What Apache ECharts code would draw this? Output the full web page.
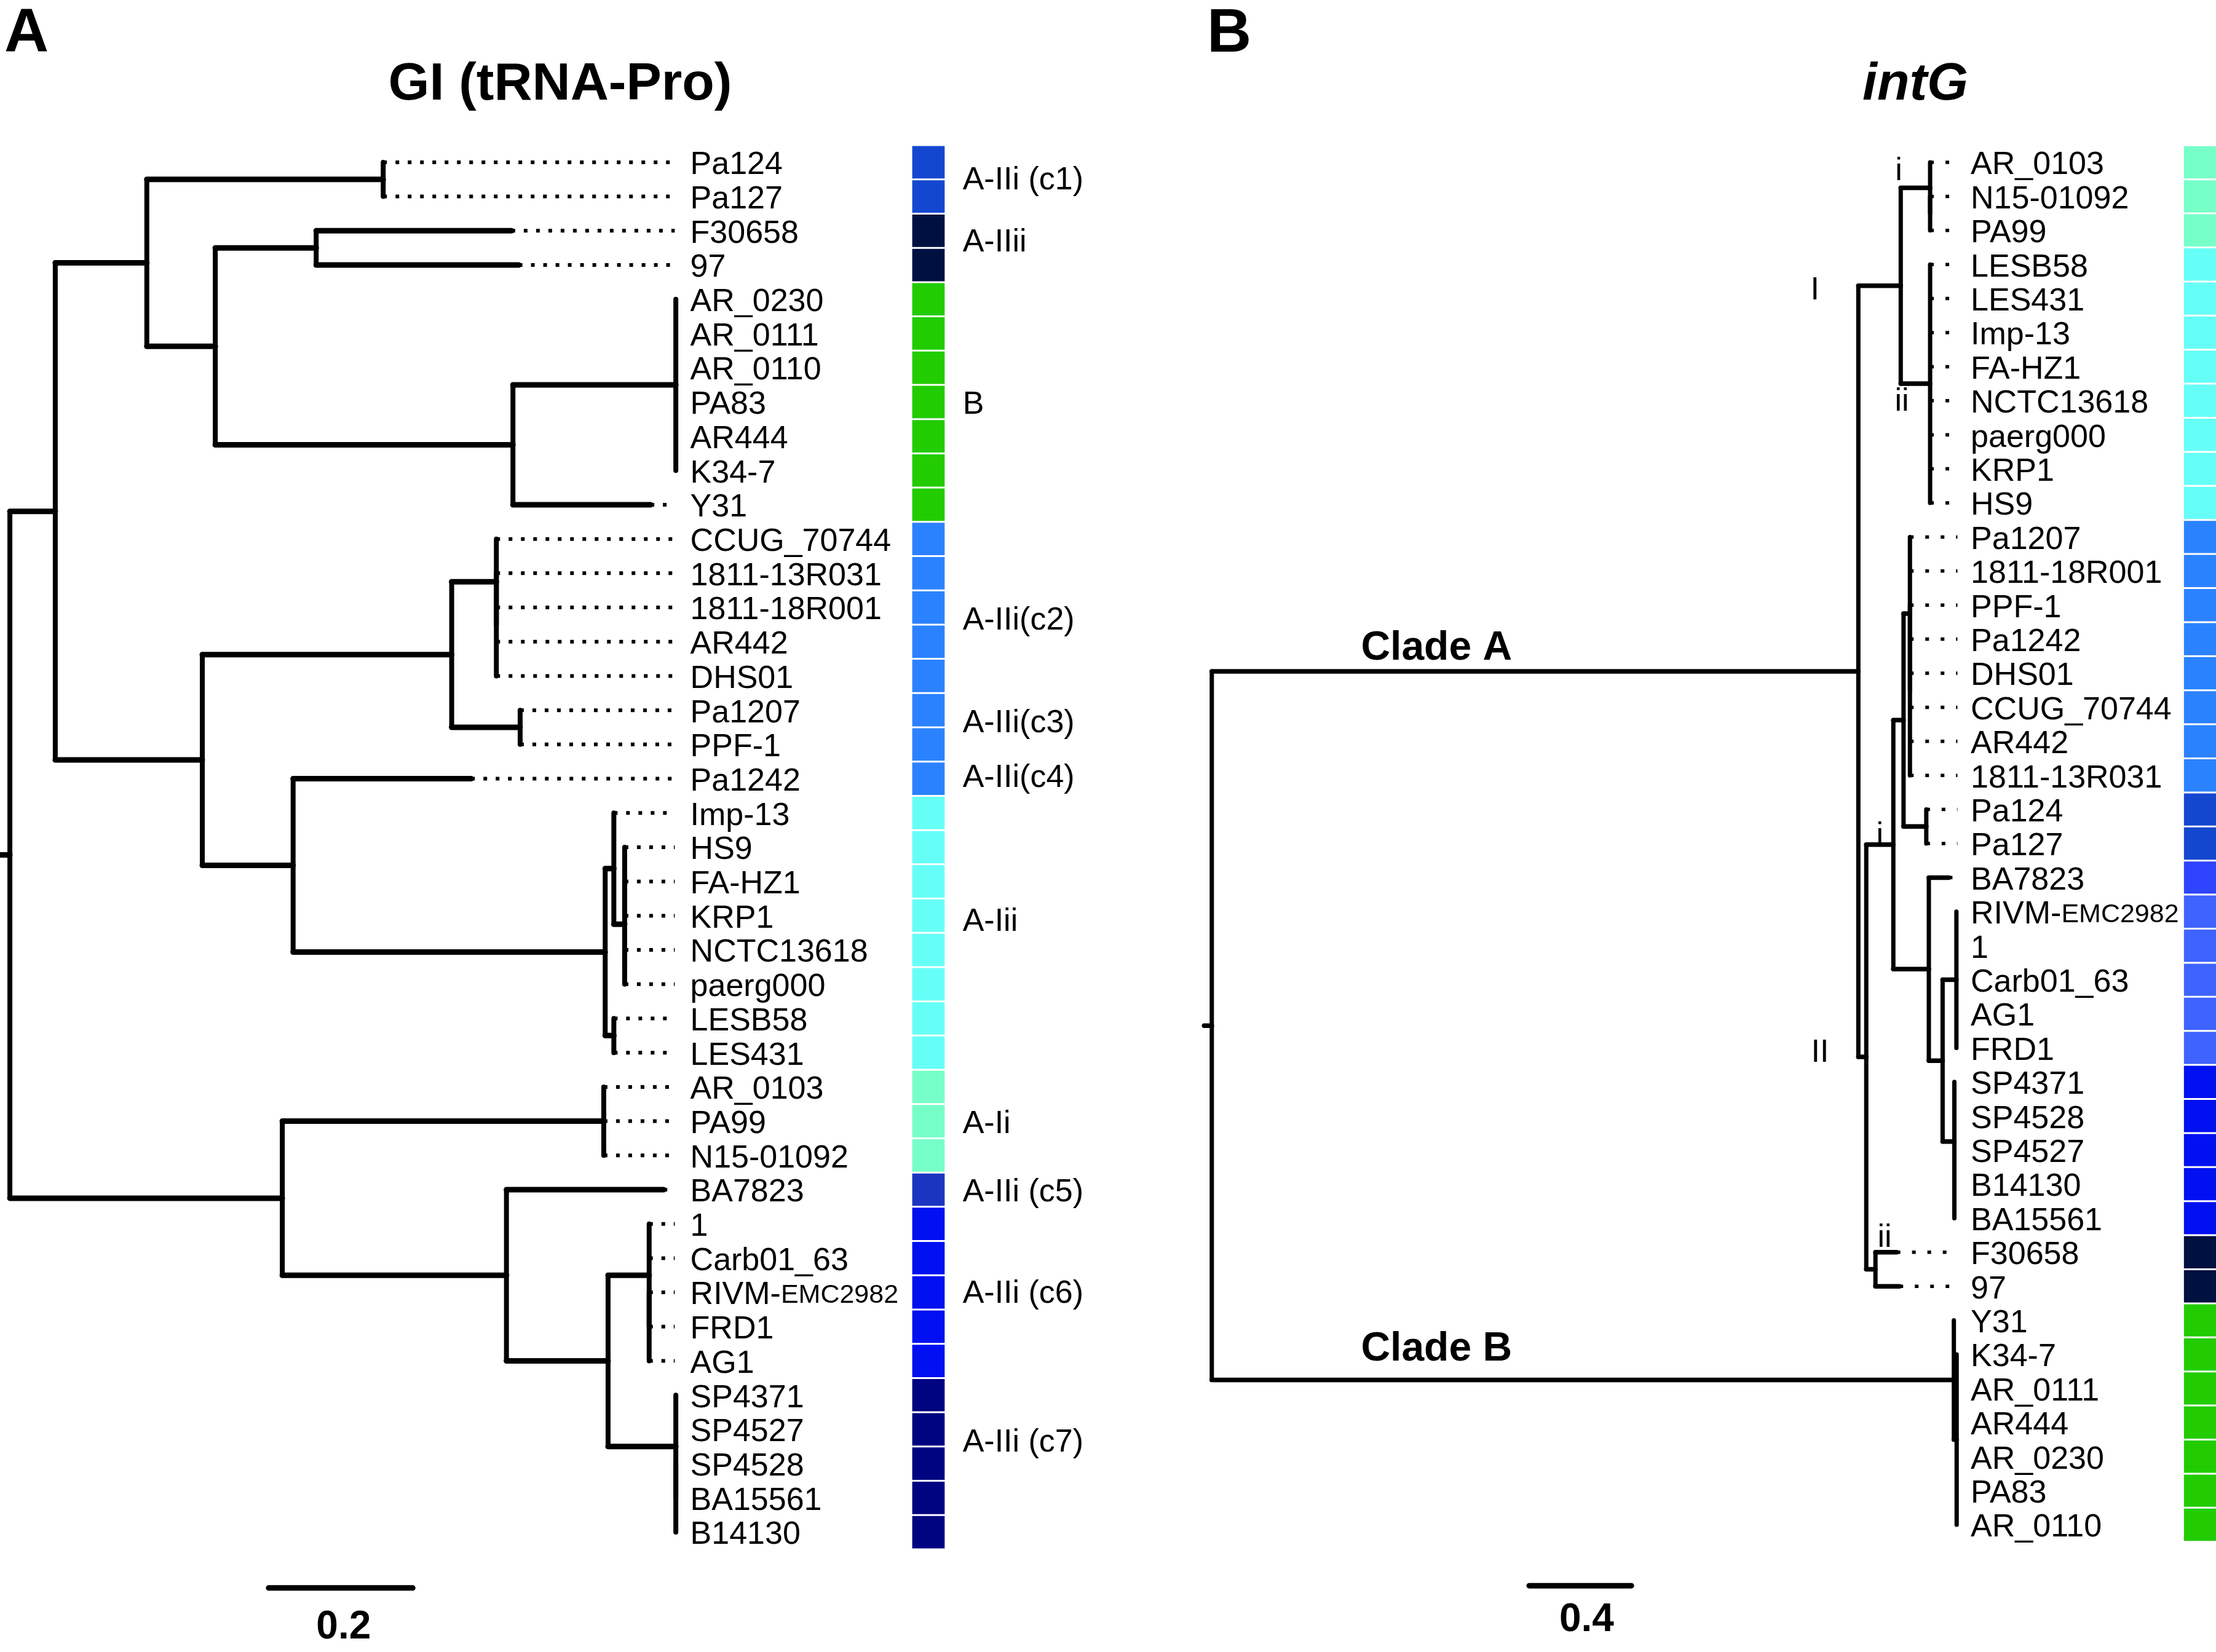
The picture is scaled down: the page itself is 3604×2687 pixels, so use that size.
<!DOCTYPE html>
<html>
<head>
<meta charset="utf-8">
<script src="https://cdn.jsdelivr.net/npm/echarts@6/dist/echarts.min.js"></script>
<style>html,body{margin:0;padding:0;background:#fff}#chart{width:3604px;height:2687px}</style>
</head>
<body>
<div id="chart"></div>
<script>
// ================= DATA =================
// Panel A: GI (tRNA-Pro) — leaf order top to bottom
const leavesA = ['Pa124','Pa127','F30658','97','AR_0230','AR_0111','AR_0110','PA83','AR444','K34-7','Y31',
  'CCUG_70744','1811-13R031','1811-18R001','AR442','DHS01','Pa1207','PPF-1','Pa1242',
  'Imp-13','HS9','FA-HZ1','KRP1','NCTC13618','paerg000','LESB58','LES431',
  'AR_0103','PA99','N15-01092','BA7823','1','Carb01_63','RIVM-EMC2982','FRD1','AG1',
  'SP4371','SP4527','SP4528','BA15561','B14130'];
const cladeOfA = ['c1','c1','IIii','IIii','B','B','B','B','B','B','B',
  'c2','c2','c2','c2','c2','c3','c3','c4',
  'Iii','Iii','Iii','Iii','Iii','Iii','Iii','Iii',
  'Ii','Ii','Ii','c5','c6','c6','c6','c6','c6','c7','c7','c7','c7','c7'];
const paletteA = {c1:'#1447D0', IIii:'#001040', B:'#22CC00', c2:'#2B82FF', c3:'#2B82FF', c4:'#2B82FF',
  Iii:'#66FFF8', Ii:'#77FFC8', c5:'#1B35C0', c6:'#0010F0', c7:'#000480'};
// tree: internal {d: distance from root, c: children}; leaf string = zero-length, {n, d} = leaf with own distance
const treeA = {d:0, c:[
  {d:0.063, c:[
    {d:0.190, c:[
      {d:0.518, c:['Pa124','Pa127']},
      {d:0.285, c:[
        {d:0.425, c:[{n:'F30658', d:0.696}, {n:'97', d:0.706}]},
        {d:0.698, c:[
          {d:0.924, c:['AR_0230','AR_0111','AR_0110','PA83','AR444','K34-7']},
          {n:'Y31', d:0.889}
        ]}
      ]}
    ]},
    {d:0.267, c:[
      {d:0.613, c:[
        {d:0.675, c:['CCUG_70744', {d:0.675, c:['1811-13R031','1811-18R001','AR442','DHS01']}]},
        {d:0.708, c:['Pa1207','PPF-1']}
      ]},
      {d:0.393, c:[
        {n:'Pa1242', d:0.640},
        {d:0.826, c:[
          {d:0.838, c:['Imp-13', {d:0.853, c:[{d:0.853, c:['HS9','FA-HZ1','KRP1']}, {d:0.853, c:['NCTC13618','paerg000']}]}]},
          {d:0.838, c:['LESB58','LES431']}
        ]}
      ]}
    ]}
  ]},
  {d:0.378, c:[
    {d:0.824, c:['AR_0103','PA99','N15-01092']},
    {d:0.689, c:[
      {n:'BA7823', d:0.907},
      {d:0.830, c:[
        {d:0.887, c:['1','Carb01_63', {d:0.887, c:['RIVM-EMC2982','FRD1','AG1']}]},
        {d:0.924, c:['SP4371','SP4527', {d:0.924, c:['SP4528','BA15561','B14130']}]}
      ]}
    ]}
  ]}
]};
const cladeLabelsA = ['A-IIi (c1)','A-IIii','B','A-IIi(c2)','A-IIi(c3)','A-IIi(c4)','A-Iii','A-Ii','A-IIi (c5)','A-IIi (c6)','A-IIi (c7)'];
const cladeLabelRowsA = [0.45, 2.25, 7.0, 13.3, 16.3, 17.9, 22.1, 28.0, 30.0, 32.95, 37.3];
const scaleA = 0.2;

// Panel B: intG
const leavesB = ['AR_0103','N15-01092','PA99','LESB58','LES431','Imp-13','FA-HZ1','NCTC13618','paerg000','KRP1','HS9',
  'Pa1207','1811-18R001','PPF-1','Pa1242','DHS01','CCUG_70744','AR442','1811-13R031','Pa124','Pa127',
  'BA7823','RIVM-EMC2982','1','Carb01_63','AG1','FRD1','SP4371','SP4528','SP4527','B14130','BA15561',
  'F30658','97','Y31','K34-7','AR_0111','AR444','AR_0230','PA83','AR_0110'];
const cladeOfB = ['Ii','Ii','Ii','Iii','Iii','Iii','Iii','Iii','Iii','Iii','Iii',
  'c2','c2','c2','c2','c2','c2','c2','c2','c1','c1',
  'c5','c6','c6','c6','c6','c6','c7','c7','c7','c7','c7',
  'IIii','IIii','B','B','B','B','B','B','B'];
const paletteB = {Ii:'#77FFC8', Iii:'#66FFF8', c2:'#2B82FF', c1:'#1447D0', c5:'#2E44FF', c6:'#3F63FF',
  c7:'#0010F0', IIii:'#001040', B:'#22CC00'};
const treeB = {d:0, c:[
  {d:2.532, c:[
    {d:2.698, c:[
      {d:2.813, c:['AR_0103', {d:2.813, c:['N15-01092','PA99']}]},
      {d:2.813, c:['LESB58','LES431','Imp-13','FA-HZ1','NCTC13618','paerg000','KRP1','HS9']}
    ]},
    {d:2.563, c:[
      {d:2.669, c:[
        {d:2.709, c:[
          {d:2.734, c:['Pa1207','1811-18R001', {d:2.734, c:['PPF-1','Pa1242','DHS01','CCUG_70744','AR442','1811-13R031']}]},
          {d:2.798, c:['Pa124','Pa127']}
        ]},
        {d:2.808, c:[
          {n:'BA7823', d:2.886},
          {d:2.862, c:[
            {d:2.916, c:['RIVM-EMC2982','1','Carb01_63','AG1','FRD1']},
            {d:2.908, c:['SP4371','SP4528','SP4527', {d:2.908, c:['B14130','BA15561']}]}
          ]}
        ]}
      ]},
      {d:2.599, c:[{n:'F30658', d:2.682}, {n:'97', d:2.693}]}
    ]}
  ]},
  {d:2.906, c:['Y31', {d:2.917, c:['K34-7','AR_0111','AR444','AR_0230','PA83','AR_0110']}]}
]};
const branchLabelsB = ['Clade A','Clade B','i','I','ii','i','II','ii'];
const scaleB = 0.4;

// ================= LAYOUT =================
const FONT = '"Liberation Sans", Arial, Helvetica, sans-serif';
const TEXT_DY = 5;
const P = {
  A: {rootX:16, ppu:1172.2, xMin:-0.0137, xMax:1.36, row0:264, rowH:55.87, yMin:-0.5, yMax:43.5,
      dotEnd:0.9225, labelX:0.944, boxX0:1.252, boxX1:1.297, stub:-0.0137,
      hW:9, vW:8, dotW:6, dash:[6,14], barRow:41.63, barX0:0.359, barLabelRow:42.7},
  B: {rootX:1970.8, ppu:415.3, xMin:-0.04, xMax:3.9, row0:264, rowH:55.4, yMin:-0.5, yMax:43.5,
      dotEnd:2.92, labelX:2.972, boxX0:3.807, boxX1:3.96, stub:-0.03,
      hW:7.5, vW:7, dotW:5.5, dash:[6,19], barRow:41.79, barX0:1.243, barLabelRow:42.72}
};

function layoutTree(tree, leaves, cfg) {
  const H = [], V = [], D = [];
  const minDot = 6 / cfg.ppu;
  function walk(node, pd) {
    if (typeof node === 'string') {
      const r = leaves.indexOf(node);
      if (cfg.dotEnd - pd > minDot) D.push([pd, r, cfg.dotEnd, r]);
      return r;
    }
    if (node.n !== undefined) {
      const r = leaves.indexOf(node.n);
      H.push([pd, r, node.d, r]);
      if (cfg.dotEnd - node.d > minDot) D.push([node.d, r, cfg.dotEnd, r]);
      return r;
    }
    const ys = node.c.map(ch => walk(ch, node.d));
    const y = (ys[0] + ys[ys.length - 1]) / 2;
    V.push([node.d, ys[0], node.d, ys[ys.length - 1]]);
    if (pd !== null && node.d > pd) H.push([pd, y, node.d, y]);
    return y;
  }
  const ry = walk(tree, null);
  H.push([cfg.stub, ry, tree.d, ry]);
  return {H, V, D};
}

function lineSeries(gi, data, style) {
  return {type:'custom', coordinateSystem:'cartesian2d', xAxisIndex:gi, yAxisIndex:gi, silent:true, clip:false,
    data: data,
    renderItem(params, api) {
      const a = api.coord([api.value(0), api.value(1)]);
      const b = api.coord([api.value(2), api.value(3)]);
      return {type:'line', shape:{x1:a[0], y1:a[1], x2:b[0], y2:b[1]},
        style: Object.assign({stroke:'#000', fill:null}, style)};
    }};
}
function textSeries(gi, items, base) {
  return {type:'custom', coordinateSystem:'cartesian2d', xAxisIndex:gi, yAxisIndex:gi, silent:true, clip:false,
    data: items.map(it => [it.x, it.y]),
    renderItem(params, api) {
      const it = items[params.dataIndex];
      const p = api.coord([api.value(0), api.value(1)]);
      const st = Object.assign({fill:'#000'}, base, it.style || {}, {text: it.text});
      return {type:'text', x:p[0], y:p[1] + TEXT_DY, style: st};
    }};
}
function boxSeries(gi, leaves, cladeOf, palette, cfg) {
  return {type:'custom', coordinateSystem:'cartesian2d', xAxisIndex:gi, yAxisIndex:gi, silent:true, clip:false,
    data: leaves.map((n, i) => [cfg.boxX0, i]),
    renderItem(params, api) {
      const r = api.value(1);
      const a = api.coord([cfg.boxX0, r - 0.5]);
      const b = api.coord([cfg.boxX1, r + 0.5]);
      return {type:'rect', shape:{x:a[0], y:a[1] + 1.5, width:b[0] - a[0], height:b[1] - a[1] - 3},
        style:{fill: palette[cladeOf[params.dataIndex]]}};
    }};
}
function leafItems(leaves, cfg) {
  return leaves.map((n, i) => {
    const it = {x: cfg.labelX, y: i, text: n};
    if (n === 'RIVM-EMC2982') {
      it.text = '{a|RIVM-}{b|EMC2982}';
      it.style = {rich:{a:{fontSize:52, fontFamily:FONT, fill:'#000'}, b:{fontSize:43, fontFamily:FONT, fill:'#000'}}};
    }
    return it;
  });
}
const leftStyle = {font:'52px ' + FONT, align:'left', verticalAlign:'middle', textAlign:'left', textVerticalAlign:'middle'};
const centerStyle = (f) => ({font:f, align:'center', verticalAlign:'middle', textAlign:'center', textVerticalAlign:'middle'});

const grids = [], xAxes = [], yAxes = [], series = [];
[['A', treeA, leavesA, cladeOfA, paletteA], ['B', treeB, leavesB, cladeOfB, paletteB]].forEach((pp, gi) => {
  const cfg = P[pp[0]];
  grids.push({left: cfg.rootX + cfg.xMin * cfg.ppu, width: (cfg.xMax - cfg.xMin) * cfg.ppu,
    top: cfg.row0 + cfg.yMin * cfg.rowH, height: (cfg.yMax - cfg.yMin) * cfg.rowH});
  xAxes.push({type:'value', gridIndex:gi, min:cfg.xMin, max:cfg.xMax, show:false});
  yAxes.push({type:'value', gridIndex:gi, min:cfg.yMin, max:cfg.yMax, inverse:true, show:false});
  const t = layoutTree(pp[1], pp[2], cfg);
  series.push(lineSeries(gi, t.D, {lineWidth:cfg.dotW, lineDash:cfg.dash, lineCap:'butt'}));
  series.push(lineSeries(gi, t.V, {lineWidth:cfg.vW, lineCap:'round'}));
  series.push(lineSeries(gi, t.H, {lineWidth:cfg.hW, lineCap:'round'}));
  series.push(boxSeries(gi, pp[2], pp[3], pp[4], cfg));
  series.push(textSeries(gi, leafItems(pp[2], cfg), leftStyle));
  // scale bar
  const sc = gi === 0 ? scaleA : scaleB;
  series.push(lineSeries(gi, [[cfg.barX0, cfg.barRow, cfg.barX0 + sc, cfg.barRow]], {lineWidth:9, lineCap:'round'}));
  series.push(textSeries(gi, [{x: cfg.barX0 + sc / 2 + (gi === 0 ? 0.004 : 0.025), y: cfg.barLabelRow, text: String(sc)}],
    centerStyle('bold 64px ' + FONT)));
});

// clade labels panel A
series.push(textSeries(0, cladeLabelsA.map((t, i) => ({x:1.322, y:cladeLabelRowsA[i], text:t})), leftStyle));
// branch labels panel B (placed next to their nodes)
const bPos = [[0.880, 14.19], [0.880, 34.77], [2.690, 0.18], [2.362, 3.68], [2.702, 6.95], [2.616, 19.69], [2.382, 26.05], [2.635, 31.5]];
series.push(textSeries(1, branchLabelsB.map((t, i) => ({x:bPos[i][0], y:bPos[i][1], text:t,
  style: i < 2 ? {font:'bold 66px ' + FONT} : {font:'52px ' + FONT}})), centerStyle('52px ' + FONT)));

const gText = (x, y, text, font) => ({type:'text', x:x, y:y, silent:true,
  style:{text:text, font:font, fill:'#000', align:'center', verticalAlign:'middle', textAlign:'center', textVerticalAlign:'middle'}});

const option = {
  animation: false,
  backgroundColor: '#fff',
  grid: grids, xAxis: xAxes, yAxis: yAxes, series: series,
  graphic: [
    gText(43, 56, 'A', 'bold 100px ' + FONT),
    gText(1999, 56, 'B', 'bold 100px ' + FONT),
    gText(911, 138, 'GI (tRNA-Pro)', 'bold 86px ' + FONT),
    gText(3115, 138, 'intG', 'italic bold 86px ' + FONT)
  ]
};
const chart = echarts.init(document.getElementById('chart'), null, {renderer:'canvas'});
chart.setOption(option);
</script>
</body>
</html>
